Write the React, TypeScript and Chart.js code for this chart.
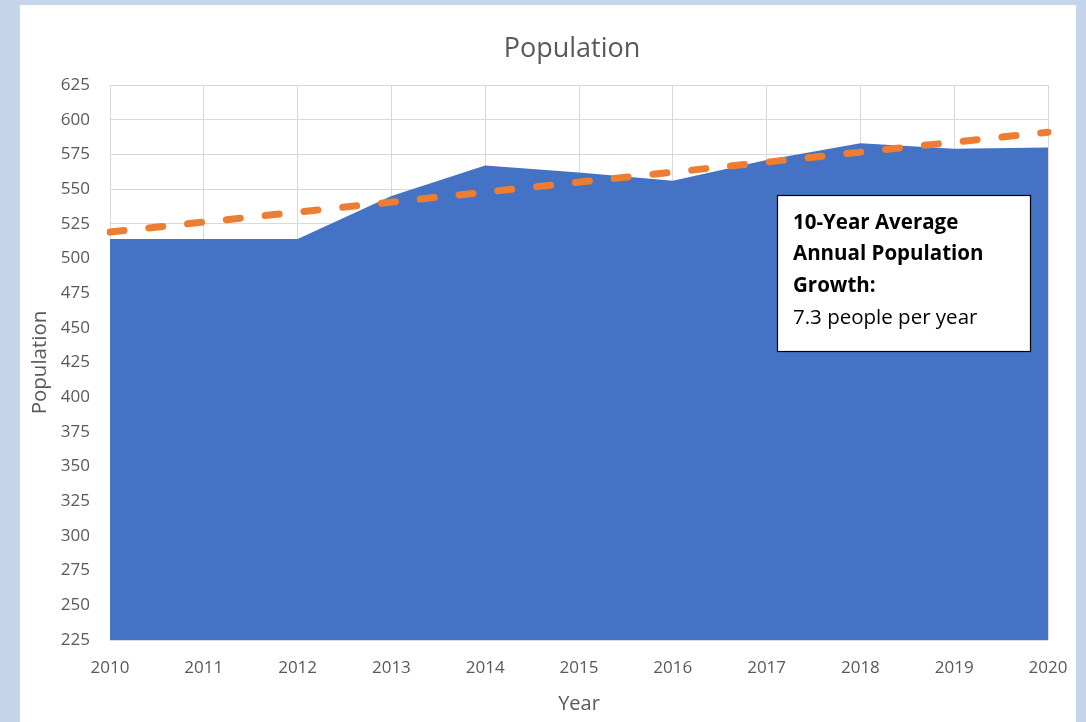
import React, { useEffect, useRef } from "react";
import { Chart, registerables } from "chart.js";

Chart.register(...registerables);

const years = ["2010", "2011", "2012", "2013", "2014", "2015", "2016", "2017", "2018", "2019", "2020"];
const population = [514, 514, 514, 545, 567, 562, 556, 571, 583, 579, 580];
const trendYears = ["2010", "2020"];
const trendValues = [519, 591];
const yMin = 225;
const yMax = 625;
const yStep = 25;
const chartTitle = "Population";
const yTitle = "Population";
const xTitle = "Year";
const noteBold = ["10-Year Average", "Annual Population", "Growth:"];
const noteNormal = "7.3 people per year";

const FONT = "'Open Sans', sans-serif";
const GRAY = "#595959";

const titlePlugin = {
  id: "customTitle",
  afterDraw(chart: any) {
    const ctx = chart.ctx;
    ctx.save();
    ctx.font = `27px ${FONT}`;
    ctx.fillStyle = GRAY;
    ctx.textAlign = "center";
    ctx.textBaseline = "middle";
    ctx.fillText(chartTitle, 552, 44);
    ctx.restore();
  },
};

const notePlugin = {
  id: "noteBox",
  afterDatasetsDraw(chart: any) {
    const ctx = chart.ctx;
    ctx.save();
    const x = 757.5, y = 190.5, w = 253, h = 156;
    ctx.fillStyle = "#ffffff";
    ctx.fillRect(x, y, w, h);
    ctx.strokeStyle = "#000000";
    ctx.lineWidth = 1.2;
    ctx.strokeRect(x, y, w, h);
    ctx.fillStyle = "#000000";
    ctx.textAlign = "left";
    ctx.textBaseline = "middle";
    ctx.font = `bold 20.5px ${FONT}`;
    const lineYs = [218, 249, 281, 313];
    noteBold.forEach((t, i) => ctx.fillText(t, 773, lineYs[i]));
    ctx.font = `20.5px ${FONT}`;
    ctx.fillText(noteNormal, 773, lineYs[3]);
    ctx.restore();
  },
};

export default function App() {
  const ref = useRef<HTMLCanvasElement | null>(null);

  useEffect(() => {
    document.body.style.margin = "0";
    if (!ref.current) return;
    const chart = new Chart(ref.current, {
      type: "line",
      data: {
        labels: years,
        datasets: [
          {
            label: "Trend",
            data: trendYears.map((yr, i) => ({ x: yr, y: trendValues[i] })) as any,
            borderColor: "#ED7D31",
            borderWidth: 7,
            borderDash: [14, 25],
            borderCapStyle: "round",
            pointRadius: 0,
            fill: false,
            order: 0,
          },
          {
            label: "Population",
            data: population,
            borderWidth: 0,
            backgroundColor: "#4472C4",
            borderColor: "#4472C4",
            pointRadius: 0,
            fill: "start",
            tension: 0,
            order: 1,
          },
        ],
      },
      options: {
        responsive: false,
        animation: false,
        layout: { padding: { top: 80, right: 28, left: 0, bottom: 0 } },
        plugins: {
          legend: { display: false },
          title: { display: false },
          tooltip: { enabled: false },
        },
        scales: {
          x: {
            type: "category",
            offset: false,
            grid: { color: "#d9d9d9", drawTicks: false },
            border: { display: false },
            ticks: { color: GRAY, font: { family: FONT, size: 17 }, padding: 18, maxRotation: 0, autoSkip: false },
            title: { display: true, text: xTitle, color: GRAY, font: { family: FONT, size: 20 }, padding: { top: 0, bottom: 6 } },
            afterFit: (s: any) => { s.height = 82; s.paddingRight = 0; s.paddingLeft = 0; },
          },
          y: {
            min: yMin,
            max: yMax,
            grid: { color: "#d9d9d9", drawTicks: false },
            border: { display: false },
            ticks: { stepSize: yStep, color: GRAY, font: { family: FONT, size: 17 }, padding: 20 },
            title: { display: true, text: yTitle, color: GRAY, font: { family: FONT, size: 20.5 }, padding: { top: 8, bottom: 0 } },
            afterFit: (s: any) => { s.width = 90; },
          },
        },
      },
      plugins: [titlePlugin, notePlugin],
    });
    return () => chart.destroy();
  }, []);

  return (
    <div style={{ position: "relative", width: 1086, height: 722, background: "#c5d5ea", overflow: "hidden" }}>
      <div style={{ position: "absolute", left: 20, top: 5, width: 1056, height: 717, background: "#ffffff" }}>
        <canvas ref={ref} width={1056} height={717} />
      </div>
    </div>
  );
}
